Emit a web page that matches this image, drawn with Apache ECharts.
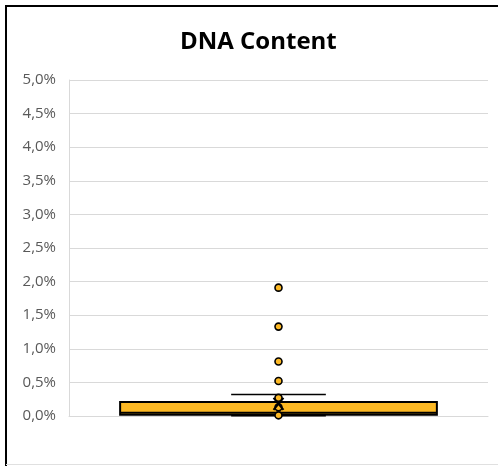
<!DOCTYPE html>
<html>
<head>
<meta charset="utf-8">
<script src="https://cdn.jsdelivr.net/npm/echarts@6/dist/echarts.min.js"></script>
<style>html,body{margin:0;padding:0;background:#fff;}#c{width:498px;height:466px;}</style>
</head>
<body>
<div id="c"></div>
<script>
// Data (values in percent)
var categories = ['DNA Content'];
var boxStats = [0.005, 0.02, 0.05, 0.21, 0.32]; // min, Q1, median, Q3, max
var meanValue = [0.18];
var innerPoints = [0.27, 0.13, 0.01];
var outlierPoints = [1.91, 1.33, 0.81, 0.52];
var yTicks = [0, 0.5, 1, 1.5, 2, 2.5, 3, 3.5, 4, 4.5, 5];

var chart = echarts.init(document.getElementById('c'), null, {renderer: 'canvas'});
var fill = '#FDB924';

function boxRender(params, api) {
  var idx = api.value(0);
  var mn = api.coord([idx, api.value(1)]);
  var q1 = api.coord([idx, api.value(2)]);
  var md = api.coord([idx, api.value(3)]);
  var q3 = api.coord([idx, api.value(4)]);
  var mx = api.coord([idx, api.value(5)]);
  var bw = api.size([1, 0])[0];
  var half = bw * 0.378;
  var cap = bw * 0.113;
  var cx = q1[0];
  var st = {stroke: '#000', lineWidth: 1.5, fill: null};
  return {
    type: 'group',
    children: [
      {type: 'line', shape: {x1: cx, y1: q3[1], x2: cx, y2: mx[1]}, style: st},
      {type: 'line', shape: {x1: cx - cap, y1: mx[1], x2: cx + cap, y2: mx[1]}, style: st},
      {type: 'line', shape: {x1: cx, y1: q1[1], x2: cx, y2: mn[1]}, style: st},
      {type: 'line', shape: {x1: cx - cap, y1: mn[1], x2: cx + cap, y2: mn[1]}, style: st},
      {type: 'rect', shape: {x: cx - half, y: q3[1], width: half * 2, height: q1[1] - q3[1]},
        style: {fill: fill, stroke: '#000', lineWidth: 2}},
      {type: 'line', shape: {x1: cx - half, y1: md[1], x2: cx + half, y2: md[1]}, style: {stroke: '#000', lineWidth: 2}}
    ]
  };
}

function meanRender(params, api) {
  var p = api.coord([api.value(0), api.value(1)]);
  var w = 5, h = 6;
  var st = {stroke: '#000', lineWidth: 2};
  return {
    type: 'group',
    children: [
      {type: 'line', shape: {x1: p[0] - w, y1: p[1] - h, x2: p[0] + w, y2: p[1] + h}, style: st},
      {type: 'line', shape: {x1: p[0] - w, y1: p[1] + h, x2: p[0] + w, y2: p[1] - h}, style: st}
    ]
  };
}

var pts = innerPoints.concat(outlierPoints).map(function (v) { return [0, v]; });

chart.setOption({
  animation: false,
  title: {
    text: 'DNA Content', left: 175, top: 25,
    textStyle: {fontFamily: 'Open Sans', fontWeight: 'bold', fontSize: 24, color: '#000'}
  },
  grid: {left: 69, right: 10, top: 80, bottom: 50},
  xAxis: {
    type: 'category', data: categories,
    axisLine: {show: true, lineStyle: {color: '#d9d9d9', width: 1}},
    axisTick: {show: false}, axisLabel: {show: false}, splitLine: {show: false}
  },
  yAxis: {
    type: 'value', min: yTicks[0], max: yTicks[yTicks.length - 1], interval: 0.5,
    axisLine: {show: true, lineStyle: {color: '#d9d9d9', width: 1}},
    axisTick: {show: false},
    splitLine: {show: true, lineStyle: {color: '#d9d9d9', width: 1}},
    axisLabel: {
      color: '#595959', fontFamily: 'Open Sans', fontSize: 15, margin: 13,
      formatter: function (v) { return v.toFixed(1).replace('.', ',') + '%'; }
    }
  },
  series: [
    {
      type: 'custom', renderItem: boxRender, z: 2,
      data: [[0].concat(boxStats)],
      encode: {x: 0, y: [1, 2, 3, 4, 5]}
    },
    {
      type: 'scatter', z: 3, data: pts, symbol: 'circle', symbolSize: 7,
      itemStyle: {color: fill, borderColor: '#000', borderWidth: 1.6, opacity: 1}
    },
    {
      type: 'custom', renderItem: meanRender, z: 4,
      data: meanValue.map(function (v) { return [0, v]; }),
      encode: {x: 0, y: 1}
    }
  ],
  graphic: [
    {type: 'line', shape: {x1: 5, y1: 6, x2: 498, y2: 6}, style: {stroke: '#000', lineWidth: 2}},
    {type: 'line', shape: {x1: 6, y1: 5, x2: 6, y2: 466}, style: {stroke: '#000', lineWidth: 2}},
    {type: 'line', shape: {x1: 6, y1: 464.5, x2: 498, y2: 464.5}, style: {stroke: '#e0e0e0', lineWidth: 1}}
  ]
});
</script>
</body>
</html>
